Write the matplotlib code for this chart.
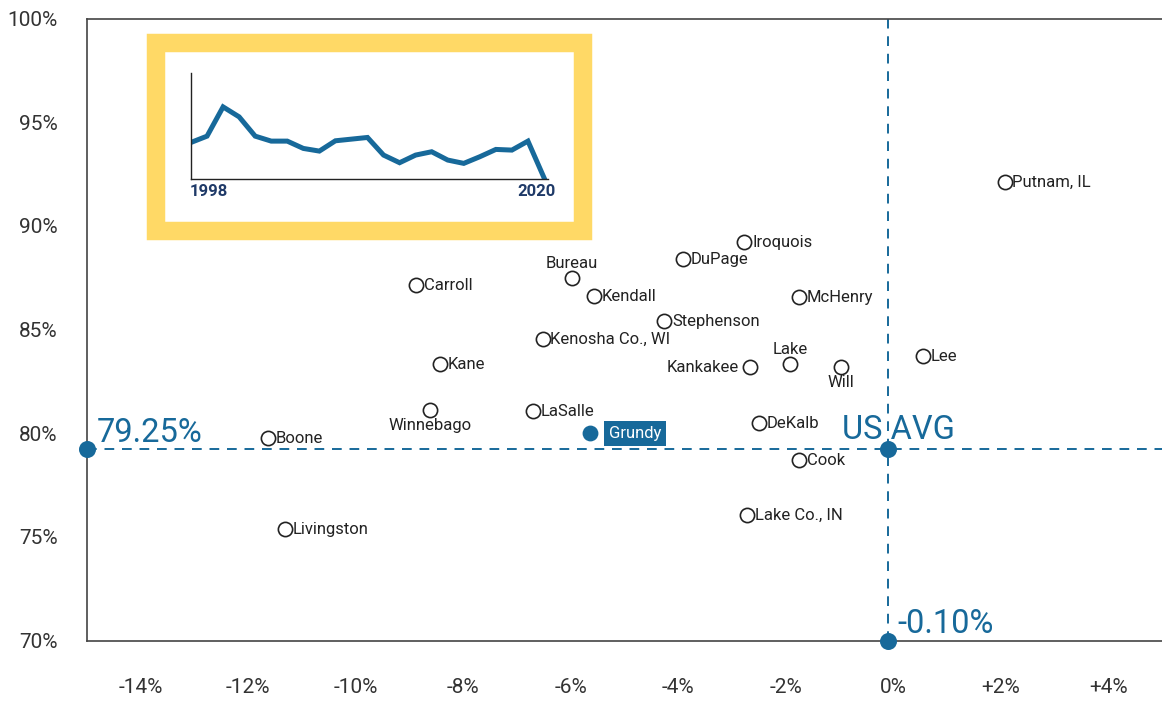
import matplotlib
matplotlib.use('Agg')
import matplotlib.pyplot as plt
from matplotlib.patches import Rectangle
from matplotlib.ticker import FuncFormatter

plt.rcParams['font.family'] = ['Roboto', 'DejaVu Sans']

BLUE = '#17699a'
YELLOW = '#ffd966'

# counties: change in rate (x, %) vs rate (y, %), label side
counties = ['Putnam, IL', 'Iroquois', 'DuPage', 'Bureau', 'Carroll', 'Kendall',
            'McHenry', 'Stephenson', 'Kenosha Co., WI', 'Lee', 'Kane', 'Kankakee',
            'Lake', 'Will', 'Winnebago', 'LaSalle', 'DeKalb', 'Boone', 'Cook',
            'Lake Co., IN', 'Livingston']
change = [2.07, -2.77, -3.92, -5.98, -8.88, -5.56,
          -1.75, -4.26, -6.52, 0.55, -8.43, -2.66,
          -1.92, -0.97, -8.62, -6.71, -2.49, -11.64, -1.75,
          -2.72, -11.31]
rate = [92.12, 89.22, 88.40, 87.49, 87.15, 86.62,
        86.57, 85.41, 84.54, 83.72, 83.34, 83.19,
        83.34, 83.19, 81.12, 81.07, 80.49, 79.77, 78.71,
        76.05, 75.38]
side = ['r', 'r', 'r', 't', 'r', 'r',
        'r', 'r', 'r', 'r', 'r', 'l',
        't', 'b', 'b', 'r', 'r', 'r', 'r',
        'r', 'r']

highlight = 'Grundy'
highlight_change = -5.65
highlight_rate = 80.01

us_change = -0.10
us_rate = 79.25

# inset: Grundy rate 1998-2020
years = list(range(1998, 2021))
inset_rate = [84.55, 85.5, 89.9, 88.4, 85.5, 84.75, 84.75, 83.65, 83.25, 84.8,
              85.05, 85.3, 82.65, 81.5, 82.65, 83.15, 81.9, 81.4, 82.4, 83.5,
              83.4, 84.75, 79.25]

fig = plt.figure(figsize=(11.62, 7.03), dpi=100)
ax = fig.add_axes([87 / 1162, 62.5 / 703, 1 - 87 / 1162, 622 / 703])

ax.set_xlim(-15, 5)
ax.set_ylim(70, 100)
ax.set_xticks([-14, -12, -10, -8, -6, -4, -2, 0, 2, 4])
ax.set_yticks([70, 75, 80, 85, 90, 95, 100])
ax.xaxis.set_major_formatter(FuncFormatter(lambda v, p: '0%' if v == 0 else ('%+d%%' % v)))
ax.yaxis.set_major_formatter(FuncFormatter(lambda v, p: '%d%%' % v))
ax.tick_params(length=0, labelsize=15, labelcolor='#333333')
ax.tick_params(axis='x', pad=27)
ax.tick_params(axis='y', pad=21)
ax.spines['right'].set_visible(False)
for s in ['left', 'top', 'bottom']:
    ax.spines[s].set_color('#444444')
    ax.spines[s].set_linewidth(1.2)

# US average reference lines
ax.plot([-15, 5], [us_rate, us_rate], color=BLUE, lw=1.4, dashes=(5, 4), zorder=2)
ax.plot([us_change, us_change], [70, 100], color=BLUE, lw=1.4, dashes=(5, 4), zorder=2)
ax.scatter([-15, us_change, us_change], [us_rate, us_rate, 70], s=150, color=BLUE,
           zorder=5, clip_on=False, linewidths=0)
ax.annotate('%.2f%%' % us_rate, (-15, us_rate), xytext=(7, 5), textcoords='offset points',
            ha='left', va='baseline', fontsize=23.5, color=BLUE)
ax.annotate('US AVG', (us_change, us_rate), xytext=(-33, 7), textcoords='offset points',
            ha='left', va='baseline', fontsize=23.5, color=BLUE)
ax.annotate('%.2f%%' % us_change, (us_change, 70), xytext=(6.5, 5.5), textcoords='offset points',
            ha='left', va='baseline', fontsize=23.5, color=BLUE)

# counties
ax.scatter(change, rate, s=105, facecolors='white', edgecolors='#222222',
           linewidths=1.2, zorder=4)
offsets = {'r': ((5.5, -0.5), 'left', 'center'),
           'l': ((-8, -0.5), 'right', 'center'),
           't': ((0, 5), 'center', 'bottom'),
           'b': ((0, -5.5), 'center', 'top')}
for name, x, y, sd in zip(counties, change, rate, side):
    off, ha, va = offsets[sd]
    ax.annotate(name, (x, y), xytext=off, textcoords='offset points',
                ha=ha, va=va, fontsize=12, color='#222222')

ax.scatter([highlight_change], [highlight_rate], s=130, color=BLUE, zorder=5, linewidths=0)
ax.annotate(highlight, (highlight_change, highlight_rate), xytext=(14, -0.5),
            textcoords='offset points', ha='left', va='center', fontsize=12, color='white',
            bbox=dict(boxstyle='square,pad=0.3', fc=BLUE, ec='none'))

# yellow frame + inset
frame = Rectangle((156 / 1162, (703 - 230.5) / 703), 426.5 / 1162, 188 / 703,
                  transform=fig.transFigure, facecolor='white', edgecolor=YELLOW,
                  linewidth=13.3, joinstyle='miter', zorder=1)
fig.patches.append(frame)

axi = fig.add_axes([191 / 1162, (703 - 179) / 703, 357 / 1162, 106 / 703], zorder=2)
axi.plot(years, inset_rate, color=BLUE, lw=3.6, solid_joinstyle='miter')
axi.set_xlim(1998, 2020.25)
axi.set_ylim(79.05, 95)
axi.set_xticks([])
axi.set_yticks([])
axi.patch.set_alpha(0)
for s in ['top', 'right']:
    axi.spines[s].set_visible(False)
for s in ['left', 'bottom']:
    axi.spines[s].set_color('#222222')
    axi.spines[s].set_linewidth(1.0)
axi.text(-0.005, -0.05, str(years[0]), transform=axi.transAxes, ha='left', va='top',
         fontsize=12, fontweight='bold', color='#1f3a68')
axi.text(1.02, -0.05, str(years[-1]), transform=axi.transAxes, ha='right', va='top',
         fontsize=12, fontweight='bold', color='#1f3a68')

fig.savefig('out.png', dpi=100)
